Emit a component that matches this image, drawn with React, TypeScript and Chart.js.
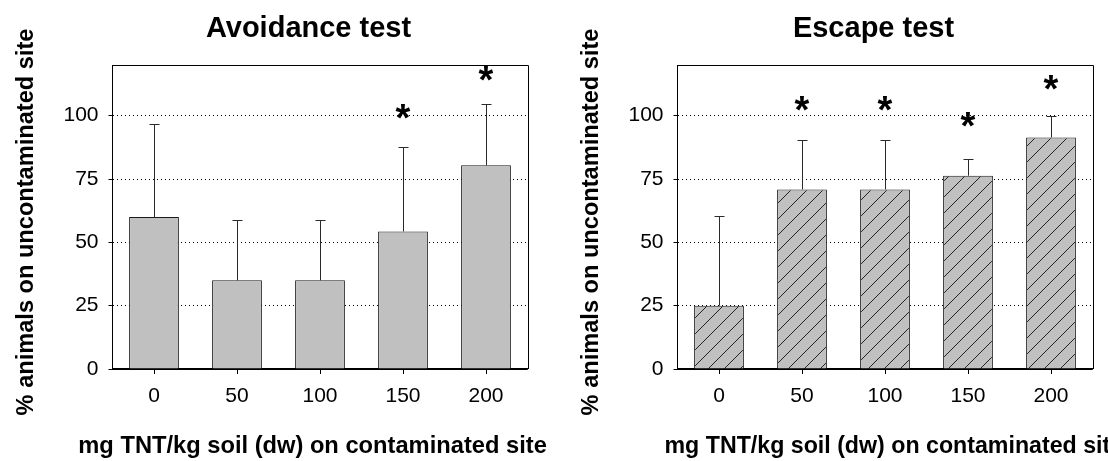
import React, { useEffect, useRef } from 'react';
import { Chart, registerables } from 'chart.js';

Chart.register(...registerables);

// TNT concentrations on the contaminated side (mg/kg soil dw)
const doses = ['0', '50', '100', '150', '200'];

// Avoidance test: mean % animals on uncontaminated site and SD
const avoidanceMean = [60, 35, 35, 54.3, 80.4];
const avoidanceSD = [36.8, 23.8, 23.8, 33.5, 24.2];
// height (in % units) of the significance asterisk, null = not significant
const avoidanceStarAt: (number | null)[] = [null, null, null, 101.6, 116.5];

// Escape test: mean % animals on uncontaminated site and SD
const escapeMean = [25, 70.9, 70.9, 76.3, 91.4];
const escapeSD = [35.4, 19.3, 19.3, 6.4, 8.6];
const escapeStarAt: (number | null)[] = [null, 104.9, 104.9, 98.6, 113.0];

const yTickValues = [0, 25, 50, 75, 100];
const Y_MAX = 120;

const yTitle = '% animals on uncontaminated site';
const xTitle = 'mg TNT/kg soil (dw) on contaminated site';

const FONT = "'Liberation Sans', Arial, Helvetica, sans-serif";

type Panel = {
  title: string;
  mean: number[];
  sd: number[];
  stars: (number | null)[];
  hatched: boolean;
  left: number;
  width: number;
  xTitleLeft: number;
  xTitleSize: number;
};

const panels: Panel[] = [
  {
    title: 'Avoidance test',
    mean: avoidanceMean,
    sd: avoidanceSD,
    stars: avoidanceStarAt,
    hatched: false,
    left: 0,
    width: 565,
    xTitleLeft: 78.3,
    xTitleSize: 23.7,
  },
  {
    title: 'Escape test',
    mean: escapeMean,
    sd: escapeSD,
    stars: escapeStarAt,
    hatched: true,
    left: 565,
    width: 543,
    xTitleLeft: 99.5,
    xTitleSize: 23.2,
  },
];

const PLOT_RIGHT = 527.5;
const PLOT_TOP = 65;
const Y_AXIS_WIDTH = 112.5;
const X_AXIS_HEIGHT = 92;

function makeHatch(): CanvasPattern | string {
  const size = 16;
  const c = document.createElement('canvas');
  c.width = size;
  c.height = size;
  const g = c.getContext('2d');
  if (!g) return '#C0C0C0';
  g.fillStyle = '#C0C0C0';
  g.fillRect(0, 0, size, size);
  g.strokeStyle = '#111';
  g.lineWidth = 0.9;
  g.beginPath();
  g.moveTo(-1, size + 1);
  g.lineTo(size + 1, -1);
  g.moveTo(-2, 2);
  g.lineTo(2, -2);
  g.moveTo(size - 2, size + 2);
  g.lineTo(size + 2, size - 2);
  g.stroke();
  const p = g.createPattern(c, 'repeat');
  return p || '#C0C0C0';
}

function PanelChart({ panel }: { panel: Panel }) {
  const ref = useRef<HTMLCanvasElement | null>(null);

  useEffect(() => {
    const canvas = ref.current;
    if (!canvas) return;

    const decor = {
      id: 'decor',
      afterDatasetsDraw(chart: any) {
        const { ctx, chartArea, scales } = chart;
        const x = scales.x;
        const y = scales.y;
        ctx.save();

        // error bars (upper half only), from bar top to mean + SD
        ctx.strokeStyle = '#2a2a2a';
        ctx.lineWidth = 1;
        panel.mean.forEach((m, i) => {
          const cx = Math.round(x.getPixelForValue(i)) + 0.5;
          const y0 = y.getPixelForValue(m);
          const y1 = Math.round(y.getPixelForValue(m + panel.sd[i])) + 0.5;
          ctx.beginPath();
          ctx.moveTo(cx, y0);
          ctx.lineTo(cx, y1);
          ctx.moveTo(cx - 5, y1);
          ctx.lineTo(cx + 5, y1);
          ctx.stroke();
        });

        // plot frame: top and right edges
        ctx.strokeStyle = '#000';
        ctx.lineWidth = 1;
        ctx.beginPath();
        const top = Math.round(chartArea.top) + 0.5;
        const right = Math.round(chartArea.right) + 0.5;
        ctx.moveTo(Math.round(chartArea.left), top);
        ctx.lineTo(right, top);
        ctx.lineTo(right, chartArea.bottom);
        ctx.stroke();

        // significance asterisks
        const starSize = 38;
        ctx.fillStyle = '#000';
        ctx.font = `bold ${starSize}px ${FONT}`;
        ctx.textAlign = 'center';
        ctx.textBaseline = 'alphabetic';
        panel.stars.forEach((s, i) => {
          if (s === null) return;
          const cx = x.getPixelForValue(i);
          const cy = y.getPixelForValue(s);
          ctx.fillText('*', cx, cy + starSize * 0.51);
        });
        ctx.restore();
      },
      afterDraw(chart: any) {
        const { ctx, chartArea } = chart;
        ctx.save();
        ctx.fillStyle = '#000';
        ctx.textBaseline = 'alphabetic';

        // chart title
        ctx.font = `bold 29px ${FONT}`;
        ctx.textAlign = 'center';
        ctx.fillText(panel.title, 308.5, 36.7);

        // x-axis title
        ctx.font = `bold ${panel.xTitleSize}px ${FONT}`;
        ctx.textAlign = 'left';
        ctx.fillText(xTitle, panel.xTitleLeft, 453);

        // y-axis title, rotated
        ctx.font = `bold 23.6px ${FONT}`;
        ctx.translate(33, (chartArea.top + chartArea.bottom) / 2 + 5);
        ctx.rotate(-Math.PI / 2);
        ctx.textAlign = 'center';
        ctx.fillText(yTitle, 0, 0);
        ctx.restore();
      },
    };

    const chart = new Chart(canvas, {
      type: 'bar',
      data: {
        labels: doses,
        datasets: [
          {
            data: panel.mean,
            backgroundColor: panel.hatched ? (makeHatch() as any) : '#C0C0C0',
            borderColor: '#1a1a1a',
            borderWidth: 1,
            borderSkipped: 'bottom',
            barPercentage: 0.6,
            categoryPercentage: 1,
          },
        ],
      },
      options: {
        responsive: false,
        animation: false,
        devicePixelRatio: 1,
        events: [],
        layout: {
          padding: { top: PLOT_TOP, right: panel.width - PLOT_RIGHT, left: 0, bottom: 0 },
        },
        plugins: {
          legend: { display: false },
          tooltip: { enabled: false },
          title: { display: false },
        },
        scales: {
          x: {
            type: 'category',
            grid: {
              display: true,
              drawOnChartArea: false,
              offset: false,
              tickLength: 5,
              color: '#000',
              lineWidth: 1,
            },
            border: { display: true, color: '#000', width: 1.5 },
            ticks: {
              color: '#000',
              font: { family: FONT, size: 21 },
              padding: 10,
              maxRotation: 0,
              autoSkip: false,
            },
            afterFit: (s: any) => {
              s.height = X_AXIS_HEIGHT;
            },
          },
          y: {
            min: 0,
            max: Y_MAX,
            ticks: {
              stepSize: 25,
              color: '#000',
              font: { family: FONT, size: 21 },
              padding: 10,
            },
            afterBuildTicks: (s: any) => {
              s.ticks = s.ticks.filter((t: any) => yTickValues.includes(t.value));
            },
            grid: { color: '#000', lineWidth: 1, tickLength: 4 },
            border: {
              display: true,
              color: '#000',
              width: 1,
              dash: (c: any) => (c.tick && c.tick.value === 0 ? [] : [1, 3]),
            },
            afterFit: (s: any) => {
              s.width = Y_AXIS_WIDTH;
            },
          },
        },
      },
      plugins: [decor],
    } as any);

    return () => chart.destroy();
  }, [panel]);

  return (
    <canvas
      ref={ref}
      width={panel.width}
      height={461}
      style={{ position: 'absolute', left: panel.left, top: 0, width: panel.width, height: 461 }}
    />
  );
}

export default function App() {
  return (
    <div
      style={{
        position: 'absolute',
        left: 0,
        top: 0,
        width: 1108,
        height: 461,
        background: '#fff',
        overflow: 'hidden',
      }}
    >
      {panels.map((p) => (
        <PanelChart key={p.title} panel={p} />
      ))}
    </div>
  );
}
